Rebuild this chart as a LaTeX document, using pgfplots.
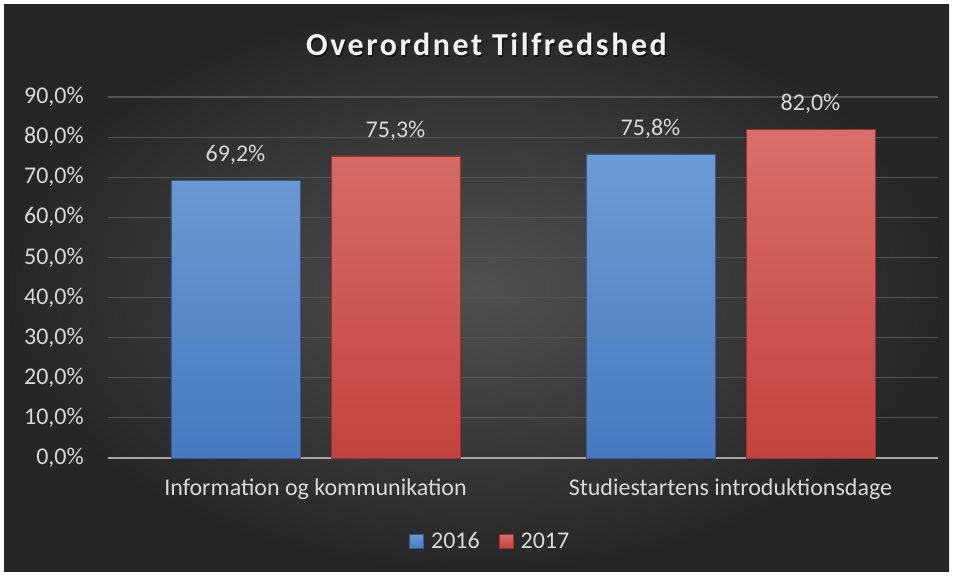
\documentclass[border=0pt]{standalone}
\usepackage{fontspec}
\setmainfont{Carlito}
\newfontfamily\titlefont[LetterSpace=8]{Carlito}
\usepackage{pgfplots}
\pgfplotsset{compat=1.18}
\definecolor{txt}{HTML}{D9D9D9}
\definecolor{bgin}{HTML}{505050}
\definecolor{bgout}{HTML}{262626}
\definecolor{gridc}{HTML}{545454}
\definecolor{axc}{HTML}{A6A6A6}
\definecolor{bluetop}{HTML}{6D9BD6}
\definecolor{bluebot}{HTML}{4779C0}
\definecolor{blueedge}{HTML}{35598C}
\definecolor{redtop}{HTML}{D86E6A}
\definecolor{redbot}{HTML}{C4423F}
\definecolor{rededge}{HTML}{963230}
\begin{document}
\begin{tikzpicture}
\fill[white] (0pt,0pt) rectangle (953pt,576pt);
\shade[inner color=bgin, outer color=bgout] (4pt,5pt) rectangle (949pt,571pt);
\node[anchor=base, text=black, opacity=0.5, font=\titlefont\bfseries\fontsize{32}{36}\selectfont] at (488pt,518.5pt) {Overordnet Tilfredshed};
\node[anchor=base, text=white!95!black, font=\titlefont\bfseries\fontsize{32}{36}\selectfont] at (486.5pt,520pt) {Overordnet Tilfredshed};
\begin{axis}[
  at={(108pt,118pt)}, anchor=south west,
  scale only axis, width=830pt, height=361pt,
  /pgf/number format/assume math mode=true,
  ymin=0, ymax=90, ytick={0,10,...,90},
  xmin=-0.5, xmax=1.5, xtick={0,1},
  xticklabels={Information og kommunikation, Studiestartens introduktionsdage},
  yticklabel={\pgfmathprintnumber[fixed,fixed zerofill,precision=1,use comma]{\tick}\%},
  major tick length=0pt,
  ymajorgrids, grid style={draw=gridc, line width=1.2pt},
  axis lines*=left,
  y axis line style={draw=none},
  x axis line style={draw=axc, line width=2.5pt},
  tick label style={font=\fontsize{24}{28}\selectfont, text=txt},
  yticklabel style={anchor=east, inner sep=0pt, xshift=-24pt},
  xticklabel style={anchor=north, inner sep=0pt, yshift=-21pt},
  ybar=31pt, bar width=129pt,
  nodes near coords={\pgfmathprintnumber[fixed,fixed zerofill,precision=1,use comma]{\pgfplotspointmeta}\%},
  every node near coord/.append style={font=\fontsize{24}{28}\selectfont, text=txt, inner sep=0pt, yshift=15pt},
  legend style={at={(0.46,-0.23)}, anchor=center, draw=none, fill=none,
    legend columns=2, font=\fontsize{24}{28}\selectfont, text=txt,
    /tikz/every odd column/.append style={column sep=6pt},
    /tikz/every even column/.append style={column sep=18pt},
    nodes={inner sep=1pt}},
  legend image code/.code={\fill[#1] (0pt,-7pt) rectangle (14pt,7pt);},
]
\addplot[draw=blueedge, line width=0.8pt, top color=bluetop, bottom color=bluebot] coordinates {(0,69.2) (1,75.8)};
\addplot[draw=rededge, line width=0.8pt, top color=redtop, bottom color=redbot] coordinates {(0,75.3) (1,82.0)};
\legend{2016, 2017}
\end{axis}
\end{tikzpicture}
\end{document}
